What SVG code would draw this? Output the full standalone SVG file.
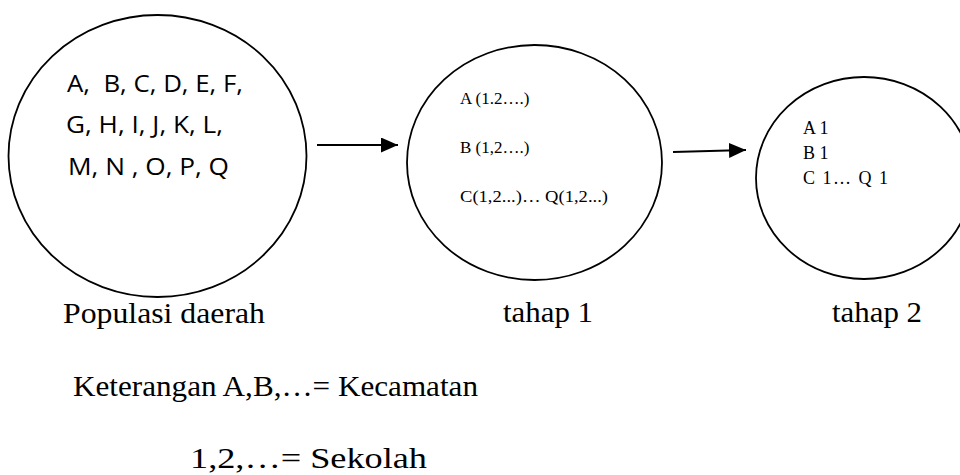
<svg xmlns="http://www.w3.org/2000/svg" width="960" height="475" viewBox="0 0 960 475">
<defs>
<style>
.node{fill:none;stroke:#000;stroke-width:1.8}
.sans{font-family:"Open Sans","Liberation Sans",sans-serif;font-size:23px;fill:#000}
.serif{font-family:"Liberation Serif","Times New Roman",serif;fill:#000}
.small{font-size:17px}
.small2{font-size:18px}
.lbl{font-size:30px}
.conn{stroke:#000;stroke-width:2.2;fill:none}
</style>
<marker id="ah" markerUnits="userSpaceOnUse" markerWidth="18" markerHeight="16" refX="17" refY="7.5" orient="auto">
<path d="M0,0 L17,7.5 L0,15 Z" fill="#000"/>
</marker>
</defs>
<rect width="960" height="475" fill="#fff"/>
<g id="populasi">
<ellipse class="node" cx="157.5" cy="156" rx="149" ry="141"/>
<text class="sans" x="67" y="92" textLength="176" lengthAdjust="spacingAndGlyphs" xml:space="preserve">A,  B, C, D, E, F,</text>
<text class="sans" x="66" y="133" textLength="157" lengthAdjust="spacingAndGlyphs">G, H, I, J, K, L,</text>
<text class="sans" x="68" y="175" textLength="161" lengthAdjust="spacingAndGlyphs">M, N , O, P, Q</text>
<text class="serif lbl" x="63" y="323" textLength="202" lengthAdjust="spacingAndGlyphs">Populasi daerah</text>
</g>
<g id="tahap1">
<ellipse class="node" cx="534.5" cy="162.5" rx="127.5" ry="117.5"/>
<text class="serif small" x="460" y="104">A (1.2….)</text>
<text class="serif small" x="460" y="153">B (1,2….)</text>
<text class="serif small" x="460" y="202" textLength="148" lengthAdjust="spacingAndGlyphs">C(1,2...)… Q(1,2...)</text>
<text class="serif lbl" x="503" y="322" textLength="90" lengthAdjust="spacingAndGlyphs">tahap 1</text>
</g>
<g id="tahap2">
<ellipse class="node" cx="864" cy="178" rx="108" ry="101"/>
<text class="serif small2" x="803" y="134">A 1</text>
<text class="serif small2" x="803" y="159">B 1</text>
<text class="serif small2" x="803" y="184" textLength="85" lengthAdjust="spacing">C 1… Q 1</text>
<text class="serif lbl" x="832" y="322" textLength="90" lengthAdjust="spacingAndGlyphs">tahap 2</text>
</g>
<g id="connectors">
<line class="conn" x1="317" y1="145" x2="398" y2="145" marker-end="url(#ah)"/>
<line class="conn" x1="673" y1="152" x2="746" y2="150" marker-end="url(#ah)"/>
</g>
<g id="keterangan">
<text class="serif lbl" x="73" y="396" textLength="405" lengthAdjust="spacingAndGlyphs">Keterangan A,B,…= Kecamatan</text>
<text class="serif lbl" x="190" y="468" textLength="237" lengthAdjust="spacingAndGlyphs">1,2,…= Sekolah</text>
</g>
</svg>
